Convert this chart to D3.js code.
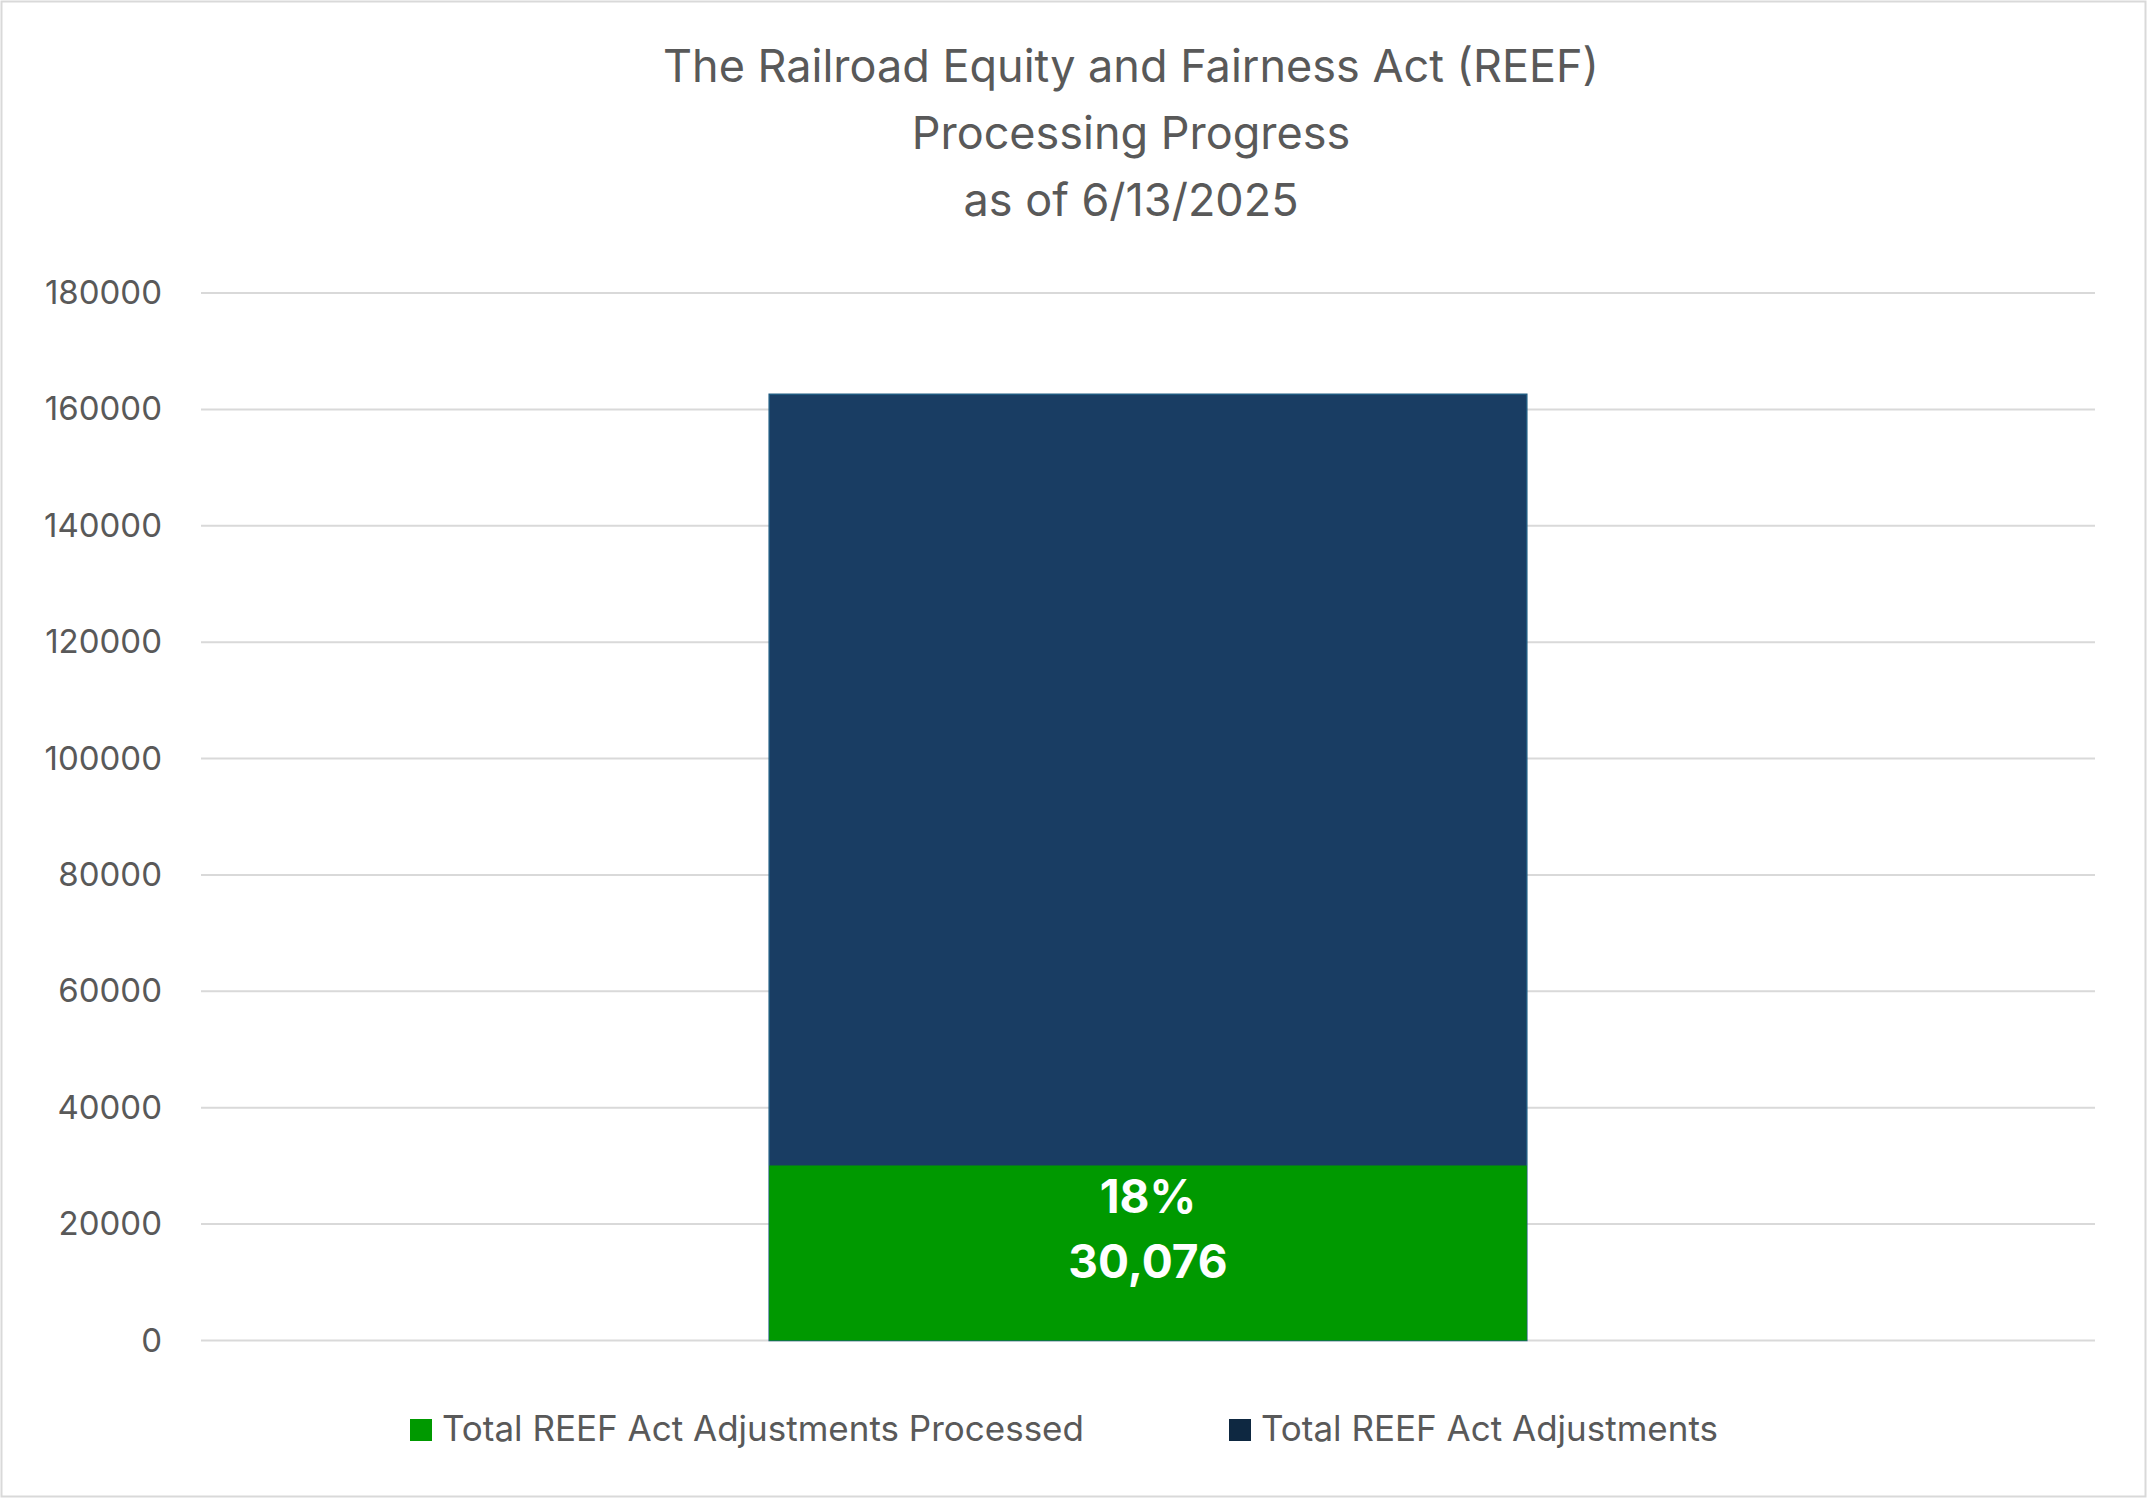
<!DOCTYPE html><html><head><meta charset="utf-8"><script src="https://cdn.jsdelivr.net/npm/d3@7"></script>
<style>body{margin:0;background:#fff}</style></head><body><svg id="c" width="2147" height="1498"></svg>
<script>
const titleLines=["The Railroad Equity and Fairness Act (REEF)","Processing Progress","as of 6/13/2025"];
const categories=["REEF"];
const totalAdjustments=[162600];
const processed=[30076];
const percentLabels=["18%"];
const yTicks=[0,20000,40000,60000,80000,100000,120000,140000,160000,180000];
const legendNames=["Total REEF Act Adjustments Processed","Total REEF Act Adjustments"];
const F="Inter, 'Open Sans', sans-serif";
const svg=d3.select("#c");
svg.append("rect").attr("x",1.5).attr("y",1.5).attr("width",2144).attr("height",1495).attr("fill","#fff").attr("stroke","#d9d9d9").attr("stroke-width",2);
svg.selectAll(".t").data(titleLines).join("text").attr("x",1131).attr("y",(d,i)=>82+i*67).attr("text-anchor","middle").attr("font-family",F).attr("font-size",45).attr("fill","#595959").text(d=>d);
const x=d3.scaleBand().domain(categories).range([201,2095]).paddingInner(0.6).paddingOuter(0.3);
const y=d3.scaleLinear().domain([0,180000]).range([1340.5,293]);
const g=svg.append("g");
g.selectAll(".grid").data(yTicks).join("line").attr("x1",201).attr("x2",2095).attr("y1",d=>y(d)).attr("y2",d=>y(d)).attr("stroke","#d9d9d9").attr("stroke-width",2);
g.selectAll(".yl").data(yTicks).join("text").attr("x",162).attr("y",d=>y(d)+11).attr("text-anchor","end").attr("font-family",F).attr("font-size",33).attr("fill","#595959").text(d=>d);
g.selectAll(".tot").data(categories).join("rect").attr("x",d=>x(d)).attr("width",x.bandwidth()).attr("y",(d,i)=>y(totalAdjustments[i])).attr("height",(d,i)=>y(0)-y(totalAdjustments[i])).attr("fill","#193d63").attr("stroke","#1f5a80").attr("stroke-width",1.5);
g.selectAll(".pr").data(categories).join("rect").attr("x",d=>x(d)).attr("width",x.bandwidth()).attr("y",(d,i)=>y(processed[i])).attr("height",(d,i)=>y(0)-y(processed[i])).attr("fill","#009900");
categories.forEach((c,i)=>{
 const cx=x(c)+x.bandwidth()/2;
 g.append("text").attr("x",cx).attr("y",1213).attr("text-anchor","middle").attr("font-family",F).attr("font-weight","bold").attr("font-size",46).attr("fill","#fff").text(percentLabels[i]);
 g.append("text").attr("x",cx).attr("y",1278).attr("text-anchor","middle").attr("font-family",F).attr("font-weight","bold").attr("font-size",46).attr("fill","#fff").text(d3.format(",")(processed[i]));
});
const lx=[410,1229],lc=["#009900","#0e2841"];
legendNames.forEach((n,i)=>{
 svg.append("rect").attr("x",lx[i]).attr("y",1419).attr("width",22).attr("height",22).attr("fill",lc[i]);
 svg.append("text").attr("x",lx[i]+32).attr("y",1441).attr("font-family",F).attr("font-size",35).attr("fill","#595959").text(n);
});
</script></body></html>
